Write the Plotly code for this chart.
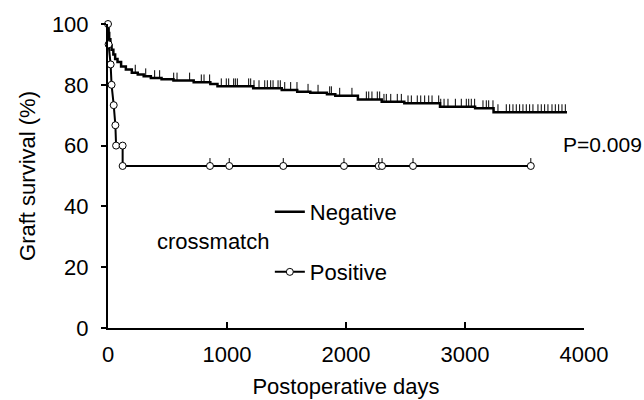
import plotly.graph_objects as go
import numpy as np

# Negative crossmatch Kaplan-Meier step points (day, survival %)
neg_days = [0, 5, 10, 20, 30, 45, 60, 80, 110, 150, 200, 250, 300, 360, 450, 550,
            720, 860, 920, 1220, 1460, 1590, 1700, 1840, 1910, 2100, 2300, 2490,
            2790, 3085, 3240, 3857]
neg_surv = [100, 97, 95, 93, 91.5, 90, 88.5, 87.5, 86, 85, 84, 83.4, 82.8, 82.2,
            81.8, 81.4, 80.8, 80.3, 79.5, 78.9, 78.3, 77.7, 77.4, 76.9, 76.4, 75.2,
            74.4, 73.9, 72.8, 72.3, 71.0, 71.0]
neg_censor_days = [229, 317, 392, 434, 552, 580, 686, 784, 807, 854, 952, 994, 1014,
                   1056, 1070, 1087, 1182, 1199, 1227, 1269, 1317, 1339, 1367, 1387,
                   1429, 1448, 1485, 1535, 1588, 1681, 1765, 1863, 1877, 1947, 2050,
                   2171, 2191, 2218, 2263, 2283, 2319, 2339, 2376, 2431, 2465, 2521,
                   2549, 2599, 2628, 2661, 2695, 2723, 2779, 2796, 2824, 2857, 2919,
                   2969, 3011, 3031, 3053, 3081, 3151, 3179, 3199, 3235, 3277, 3347,
                   3375, 3403, 3431, 3459, 3487, 3515, 3543, 3571, 3613, 3641, 3669,
                   3697, 3731, 3759, 3787, 3815, 3843]

# Positive crossmatch points (as plotted, with markers at vertices)
pos_days = [0, 5, 22, 30, 48, 62, 68, 123, 123, 857, 1019, 1473, 1983, 2275, 2303, 2563, 3553]
pos_surv = [100, 93.3, 86.7, 80, 73.3, 66.7, 60, 60, 53.3, 53.3, 53.3, 53.3, 53.3, 53.3, 53.3, 53.3, 53.3]
pos_censor_days = [857, 1019, 1473, 1983, 2275, 2303, 2563, 3553]
pos_censor_surv = [53.3] * len(pos_censor_days)

x_ticks = [0, 1000, 2000, 3000, 4000]
y_ticks = [0, 20, 40, 60, 80, 100]

FONT = "Liberation Sans, Arial, sans-serif"
FS = 22


def step_value(d):
    idx = np.searchsorted(np.array(neg_days), d, side="right") - 1
    return neg_surv[max(idx, 0)]


neg_censor_surv = [step_value(d) for d in neg_censor_days]

fig = go.Figure()

# censor ticks, negative
fig.add_trace(go.Scatter(
    x=neg_censor_days, y=neg_censor_surv, mode="markers",
    marker=dict(size=1, color="black"),
    error_y=dict(type="data", symmetric=False, array=[2.6] * len(neg_censor_days),
                 arrayminus=[0] * len(neg_censor_days), thickness=1, width=0, color="black"),
    showlegend=False, hoverinfo="skip", cliponaxis=False))

# negative curve
fig.add_trace(go.Scatter(
    x=neg_days, y=neg_surv, mode="lines", line=dict(color="black", width=2.5, shape="hv"),
    name="Negative", legend="legend", cliponaxis=False))

# censor ticks, positive
fig.add_trace(go.Scatter(
    x=pos_censor_days, y=pos_censor_surv, mode="markers",
    marker=dict(size=1, color="black"),
    error_y=dict(type="data", symmetric=False, array=[2.6] * len(pos_censor_days),
                 arrayminus=[0] * len(pos_censor_days), thickness=1, width=0, color="black"),
    showlegend=False, hoverinfo="skip", cliponaxis=False))

# positive curve
fig.add_trace(go.Scatter(
    x=pos_days, y=pos_surv, mode="lines+markers",
    line=dict(color="black", width=2),
    marker=dict(symbol="circle", size=7, color="white", line=dict(color="black", width=1)),
    name="Positive", legend="legend2", cliponaxis=False))

fig.update_layout(
    width=644, height=400,
    margin=dict(l=108, r=60, t=24, b=72),
    paper_bgcolor="white", plot_bgcolor="white",
    font=dict(family=FONT, size=FS, color="black"),
    xaxis=dict(range=[0, 4000], tickvals=x_ticks, ticks="inside", ticklen=6, tickwidth=2,
               tickcolor="black", showline=True, linewidth=2, linecolor="black",
               showgrid=False, zeroline=False, ticklabelstandoff=6, automargin=False,
               title=dict(text="Postoperative days", standoff=12, font=dict(size=FS))),
    yaxis=dict(range=[0, 100], tickvals=y_ticks, ticks="outside", ticklen=5, tickwidth=2,
               tickcolor="black", showline=True, linewidth=2, linecolor="black",
               showgrid=False, zeroline=False, ticklabelstandoff=8, automargin=False,
               title=dict(text="Graft survival (%)", standoff=10, font=dict(size=FS))),
    legend=dict(x=0.34, y=0.382, xanchor="left", yanchor="middle", bgcolor="rgba(0,0,0,0)",
                font=dict(size=FS), itemwidth=30),
    legend2=dict(x=0.34, y=0.184, xanchor="left", yanchor="middle", bgcolor="rgba(0,0,0,0)",
                 font=dict(size=FS), itemwidth=30),
    annotations=[
        dict(text="crossmatch", x=0.2216, y=0.283, xref="paper", yref="paper",
             showarrow=False, xanchor="center", yanchor="middle", font=dict(size=FS)),
        dict(text="P=0.009", x=0.9517, y=0.602, xref="paper", yref="paper",
             showarrow=False, xanchor="left", yanchor="middle", font=dict(size=21)),
    ],
)

fig.write_html("out.html", config={"displayModeBar": False},
               post_script="document.body.style.margin='0';")
